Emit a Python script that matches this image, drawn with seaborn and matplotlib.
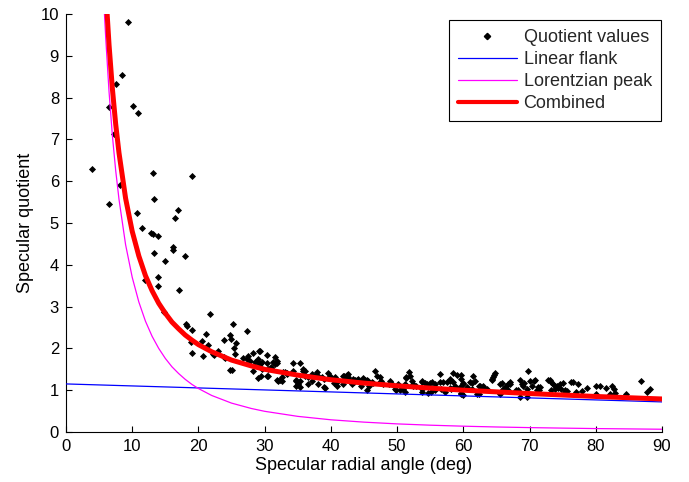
import numpy as np
import pandas as pd
import matplotlib
matplotlib.use("Agg")
import matplotlib.pyplot as plt
from matplotlib.lines import Line2D
import seaborn as sns

# ---------------- data ----------------
scatter_pts = [
    (9.4, 9.8), (8.4, 8.55), (7.55, 8.33), (6.5, 7.77), (10.1, 7.80), (10.8, 7.62), (7.3, 7.14),
    (4.0, 6.3), (13.1, 6.2), (19.0, 6.13), (8.2, 5.91), (13.3, 5.58),
    (6.5, 5.45), (10.7, 5.23), (16.9, 5.31), (16.4, 5.11), (11.5, 4.87), (12.8, 4.77), (13.2, 4.73),
    (13.9, 4.70), (16.2, 4.43), (16.2, 4.35), (13.3, 4.29), (17.9, 4.22), (15.0, 4.10), (11.9, 3.64),
    (13.9, 3.71), (13.9, 3.49), (17.1, 3.40), (14.8, 2.87), (21.7, 2.83), (18.1, 2.59), (18.3, 2.53),
    (19.1, 2.43), (21.2, 2.34), (18.9, 2.16), (20.5, 2.18), (21.5, 2.08), (19.1, 1.90), (20.7, 1.81),
    (22.3, 1.85),
    (25.2, 2.58), (27.4, 2.41), (24.7, 2.31), (23.8, 2.20), (24.9, 2.22), (25.7, 2.12), (25.4, 2.01),
    (25.5, 1.86), (22.2, 1.86), (22.9, 1.93), (23.8, 1.80), (24.0, 1.78), (28.3, 1.88), (29.2, 1.93),
    (26.8, 1.78), (27.3, 1.75), (27.8, 1.71), (28.8, 1.71), (27.5, 1.82), (29.3, 1.94), (30.3, 1.85),
    (31.6, 1.80), (29.6, 1.67), (30.3, 1.64), (31.6, 1.63), (31.9, 1.71), (31.3, 1.67), (31.8, 1.64),
    (29.0, 1.75), (29.3, 1.63), (28.5, 1.67), (24.8, 1.48), (25.0, 1.49), (28.2, 1.45), (29.6, 1.51),
    (30.9, 1.53), (30.5, 1.51), (31.0, 1.55), (29.0, 1.30), (29.5, 1.33), (30.5, 1.35), (30.3, 1.35),
    (31.8, 1.25), (32.3, 1.25), (32.6, 1.31), (32.0, 1.23), (32.6, 1.23), (33.1, 1.43), (33.4, 1.41),
    (32.8, 1.43), (33.3, 1.39), (34.3, 1.64), (35.3, 1.64), (35.8, 1.51), (36.1, 1.45), (34.8, 1.25),
    (35.3, 1.22), (34.7, 1.09), (36.6, 1.15), (37.1, 1.22), (37.6, 1.35), (37.9, 1.43), (39.6, 1.41),
    (39.9, 1.31), (39.1, 1.06), (40.4, 1.17), (40.9, 1.09), (42.0, 1.35), (42.4, 1.27), (42.6, 1.31),
    (41.9, 1.15), (43.2, 1.14), (43.5, 1.19), (43.9, 1.25),
    (34.3, 1.45), (34.8, 1.23), (35.1, 1.15), (35.8, 1.47), (36.1, 1.35), (36.6, 1.31), (37.1, 1.39),
    (38.1, 1.35), (38.6, 1.31), (38.9, 1.27), (39.9, 1.33), (40.6, 1.31), (41.1, 1.23), (41.9, 1.33),
    (42.4, 1.37), (42.9, 1.23), (43.6, 1.25), (44.1, 1.27), (44.6, 1.23), (45.2, 1.25), (45.6, 1.23),
    (46.2, 1.19), (46.9, 1.35), (47.4, 1.19), (47.9, 1.14), (48.7, 1.15), (45.4, 1.00), (38.9, 1.07),
    (38.1, 1.15), (35.3, 1.07),
    (42.6, 1.39), (43.4, 1.27), (44.9, 1.30), (45.4, 1.25), (44.4, 1.19), (46.7, 1.47), (47.4, 1.31),
    (47.6, 1.23), (46.4, 1.17), (45.8, 1.09), (44.6, 1.09), (49.0, 1.23), (49.7, 1.04), (49.9, 1.00),
    (50.9, 1.04), (51.8, 1.43), (52.0, 1.35), (51.4, 1.30), (52.2, 1.23), (51.2, 1.15), (52.4, 1.09),
    (52.9, 1.11), (53.7, 1.19), (54.5, 1.15), (54.9, 1.17), (55.7, 1.15), (53.7, 1.04), (55.1, 0.96),
    (56.5, 1.39), (56.5, 1.19), (57.5, 1.19), (58.0, 1.23), (56.7, 1.04), (58.0, 1.06), (58.5, 1.41),
    (59.0, 1.37), (59.7, 1.37), (59.7, 1.27), (60.0, 1.17), (59.5, 1.07), (59.6, 0.93), (60.0, 0.88),
    (61.5, 1.33), (61.8, 1.23), (61.3, 1.17), (62.0, 0.92), (62.5, 1.11), (63.0, 1.07), (64.3, 1.27),
    (64.6, 1.37), (64.8, 1.41), (65.5, 1.15), (66.5, 1.09),
    (51.3, 1.31), (49.2, 1.15), (50.2, 1.15), (50.7, 1.07), (50.4, 1.00), (51.2, 0.96), (52.4, 1.15),
    (53.7, 1.22), (54.2, 1.17), (55.2, 1.19), (57.0, 1.19), (58.5, 1.19), (58.7, 1.11), (60.0, 1.15),
    (60.5, 1.07), (61.3, 1.04), (62.3, 1.11), (62.8, 1.06), (53.7, 0.96), (54.7, 0.93), (55.7, 1.01),
    (57.2, 0.96), (58.2, 1.04), (59.7, 0.92), (62.3, 0.92), (61.0, 1.19), (58.0, 1.27),
    (65.8, 1.17), (66.8, 1.14), (67.0, 1.19), (68.3, 1.01), (69.8, 1.47), (68.6, 1.25), (69.1, 1.17),
    (69.0, 1.11), (70.1, 1.23), (70.6, 1.22), (70.8, 1.25), (69.6, 1.04), (71.1, 1.00), (71.6, 1.07),
    (71.5, 1.01), (68.6, 0.84), (69.6, 0.84), (72.8, 1.25), (73.3, 1.19), (73.6, 1.15), (74.1, 1.11),
    (74.3, 1.06), (73.8, 1.03), (74.6, 1.15), (75.1, 1.17), (75.4, 0.96), (75.6, 0.98), (76.6, 1.19),
    (77.0, 0.96), (77.9, 0.98), (78.6, 1.06), (80.0, 1.09), (80.6, 1.09), (80.0, 0.92), (81.6, 1.06),
    (82.4, 1.09), (82.7, 1.04), (82.2, 0.92), (82.9, 0.93), (84.6, 0.92), (86.8, 1.23), (87.7, 0.96),
    (88.2, 1.04), (64.5, 1.31), (64.3, 1.25), (63.0, 1.11), (63.5, 1.04), (67.0, 1.15), (66.0, 1.04),
    (66.8, 1.00), (68.8, 1.15), (70.3, 1.11), (68.0, 1.00), (71.3, 1.07), (73.1, 1.25), (73.8, 1.11),
    (74.8, 1.04), (75.3, 1.00), (76.3, 1.19), (77.3, 1.15), (73.3, 1.00), (65.5, 0.92),
]
angle_pts = [p[0] for p in scatter_pts]
quotient_pts = [p[1] for p in scatter_pts]

flank_angle = [0, 90]
flank_value = [1.15, 0.72]

curve_angle = [5.5, 5.8, 6, 6.5, 7, 7.5, 8, 9, 10, 11, 12, 13, 14, 15, 16, 17, 18, 19, 20, 22, 25,
               28, 30, 35, 40, 45, 50, 55, 60, 65, 70, 75, 80, 85, 90]
lorentz_value = [11.04, 10.02, 9.42, 8.14, 7.10, 6.26, 5.57, 4.48, 3.70, 3.11, 2.65, 2.29, 2.00, 1.76,
                 1.56, 1.40, 1.26, 1.14, 1.04, 0.874, 0.691, 0.562, 0.495, 0.374, 0.292, 0.236, 0.194,
                 0.163, 0.139, 0.120, 0.105, 0.093, 0.082, 0.074, 0.066]
combined_value = [12.16, 11.14, 10.54, 9.26, 8.22, 7.37, 6.68, 5.59, 4.80, 4.21, 3.74, 3.38, 3.08, 2.84,
                  2.63, 2.47, 2.32, 2.20, 2.09, 1.92, 1.72, 1.58, 1.50, 1.36, 1.25, 1.17, 1.105, 1.05,
                  1.00, 0.96, 0.92, 0.885, 0.85, 0.82, 0.79]

x_ticks = [0, 10, 20, 30, 40, 50, 60, 70, 80, 90]
y_ticks = [0, 1, 2, 3, 4, 5, 6, 7, 8, 9, 10]

# ---------------- plotting ----------------
sns.set_theme(style="white")
plt.rcParams["font.family"] = ["Liberation Sans", "DejaVu Sans"]
FS = 12
FS_LAB = 13

fig = plt.figure(figsize=(6.89, 4.82), dpi=100)
ax = fig.add_axes([66 / 689, 50 / 482, 596 / 689, 418 / 482])

pts = pd.DataFrame({"angle": angle_pts, "quotient": quotient_pts})
flank = pd.DataFrame({"angle": flank_angle, "value": flank_value})
curves = pd.DataFrame({"angle": curve_angle, "lorentz": lorentz_value, "combined": combined_value})

sns.scatterplot(data=pts, x="angle", y="quotient", marker="D", s=13, color="black",
                linewidth=0, ax=ax, zorder=2, legend=False)
sns.lineplot(data=flank, x="angle", y="value", color="#0000ff", linewidth=0.9, ax=ax,
             sort=False, estimator=None, zorder=3, legend=False)
sns.lineplot(data=curves, x="angle", y="lorentz", color="#ff00ff", linewidth=0.9, ax=ax,
             sort=False, estimator=None, zorder=3, legend=False)
sns.lineplot(data=curves, x="angle", y="combined", color="#ff0000", linewidth=3.6, ax=ax,
             sort=False, estimator=None, zorder=4, legend=False)

ax.set_xlim(0, 90)
ax.set_ylim(0, 10)
ax.set_xticks(x_ticks)
ax.set_yticks(y_ticks)
ax.set_xticklabels([str(t) for t in x_ticks], fontsize=FS)
ax.set_yticklabels([str(t) for t in y_ticks], fontsize=FS)
ax.tick_params(direction="in", length=4, width=0.8, colors="black", pad=5, labelsize=FS,
               bottom=True, left=True, top=False, right=False)
for side in ["top", "right"]:
    ax.spines[side].set_visible(False)
for side in ["left", "bottom"]:
    ax.spines[side].set_color("black")
    ax.spines[side].set_linewidth(0.8)

ax.set_xlabel("Specular radial angle (deg)", fontsize=FS_LAB, color="black", labelpad=2)
ax.set_ylabel("Specular quotient", fontsize=FS_LAB, color="black", labelpad=5)

handles = [
    Line2D([], [], linestyle="none", marker="D", markersize=3.2, color="black"),
    Line2D([], [], color="#0000ff", linewidth=0.9),
    Line2D([], [], color="#ff00ff", linewidth=0.9),
    Line2D([], [], color="#ff0000", linewidth=3.0),
]
labels = ["Quotient values", "Linear flank", "Lorentzian peak", "Combined"]
leg = ax.legend(handles, labels, loc="upper right", bbox_to_anchor=(0.998, 0.986), fontsize=FS_LAB,
                frameon=True, fancybox=False, framealpha=1, edgecolor="black", handlelength=3.3,
                handletextpad=0.35, labelspacing=0.28, borderpad=0.5, borderaxespad=0)
leg.get_frame().set_linewidth(0.8)

fig.savefig("out.png", dpi=100, facecolor="white")
